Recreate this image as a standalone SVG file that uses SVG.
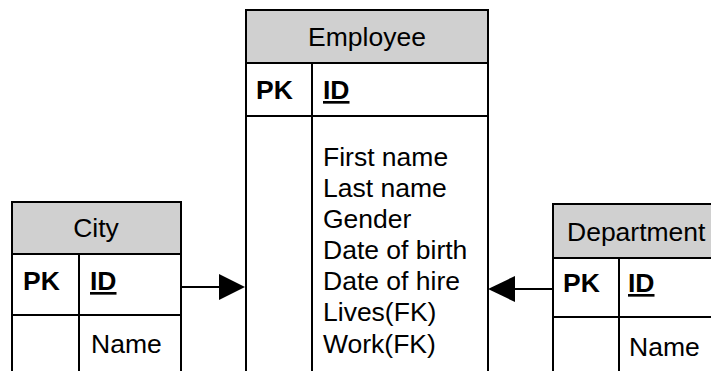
<svg xmlns="http://www.w3.org/2000/svg" width="711" height="371" viewBox="0 0 711 371">
  <style>
    .box { fill: #ffffff; stroke: #000000; stroke-width: 2; }
    .head { fill: #d0d0d0; stroke: #000000; stroke-width: 2; }
    .ln { stroke: #000000; stroke-width: 2; fill: none; }
    text { font-family: "Liberation Sans", Arial, sans-serif; font-size: 26.5px; fill: #000000; }
    .pk { font-weight: bold; }
    .key { font-weight: bold; text-decoration: underline; }
    .title { text-anchor: middle; }
  </style>
  <rect width="711" height="371" fill="#ffffff"/>

  <g id="employee">
    <rect class="box" x="246" y="10" width="242" height="380"/>
    <rect class="head" x="246" y="10" width="242" height="53"/>
    <line class="ln" x1="246" y1="116" x2="488" y2="116"/>
    <line class="ln" x1="312" y1="63" x2="312" y2="390"/>
    <text class="title" x="367" y="46">Employee</text>
    <text class="pk" x="256" y="99">PK</text>
    <text class="key" x="323" y="99">ID</text>
    <text x="323" y="166">First name</text>
    <text x="323" y="197">Last name</text>
    <text x="323" y="228">Gender</text>
    <text x="323" y="259">Date of birth</text>
    <text x="323" y="290">Date of hire</text>
    <text x="323" y="321">Lives(FK)</text>
    <text x="323" y="353">Work(FK)</text>
  </g>

  <g id="city">
    <rect class="box" x="12" y="202" width="169" height="190"/>
    <rect class="head" x="12" y="202" width="169" height="52"/>
    <line class="ln" x1="12" y1="315" x2="181" y2="315"/>
    <line class="ln" x1="79" y1="254" x2="79" y2="392"/>
    <text class="title" x="96" y="237">City</text>
    <text class="pk" x="23" y="290">PK</text>
    <text class="key" x="90" y="290">ID</text>
    <text x="91" y="353">Name</text>
  </g>

  <g id="department">
    <rect class="box" x="553" y="204" width="200" height="190"/>
    <rect class="head" x="553" y="204" width="200" height="54"/>
    <line class="ln" x1="553" y1="317" x2="753" y2="317"/>
    <line class="ln" x1="619" y1="258" x2="619" y2="394"/>
    <text x="567" y="241">Department</text>
    <text class="pk" x="563" y="292">PK</text>
    <text class="key" x="628" y="292">ID</text>
    <text x="629" y="356">Name</text>
  </g>

  <g id="connectors">
    <line class="ln" x1="181" y1="287" x2="220" y2="287"/>
    <polygon points="219,274 245,287 219,300" fill="#000000"/>
    <line class="ln" x1="553" y1="289" x2="514" y2="289"/>
    <polygon points="515,276 488,289 515,302" fill="#000000"/>
  </g>
</svg>
